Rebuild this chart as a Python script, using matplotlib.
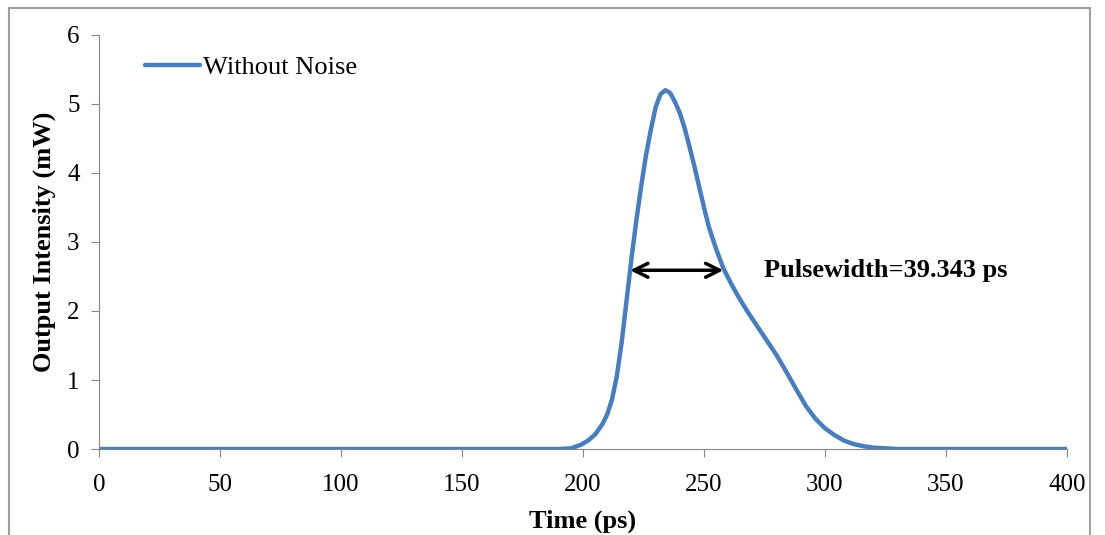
import matplotlib.pyplot as plt
from matplotlib.patches import Rectangle

# pulse
time_ps = [0, 50, 100, 150, 190, 195, 199, 202, 205, 208, 210, 212, 214, 216,
           218, 220, 222, 224, 226, 228, 230, 232, 234, 236, 238, 240, 242,
           244, 246, 248, 250, 252, 255, 258, 261, 264, 268, 272, 276, 280,
           284, 288, 292, 296, 300, 304, 308, 312, 316, 320, 325, 330, 340, 400]
intensity_mw = [0, 0, 0, 0, 0, 0.01, 0.06, 0.12, 0.21, 0.36, 0.5, 0.72, 1.06,
                1.55, 2.15, 2.75, 3.3, 3.8, 4.25, 4.62, 4.95, 5.14, 5.2, 5.16,
                5.03, 4.87, 4.65, 4.38, 4.1, 3.8, 3.5, 3.22, 2.9, 2.62, 2.41,
                2.22, 1.99, 1.78, 1.57, 1.36, 1.12, 0.87, 0.63, 0.44, 0.3, 0.2,
                0.12, 0.07, 0.04, 0.02, 0.01, 0, 0, 0]
x_ticks = [0, 50, 100, 150, 200, 250, 300, 350, 400]
y_ticks = [0, 1, 2, 3, 4, 5, 6]
arrow_left, arrow_right, arrow_level = 219.5, 258, 2.59
label = "Pulsewidth=39.343 ps"

plt.rcParams['font.family'] = ['Liberation Serif', 'DejaVu Serif']

fig = plt.figure(figsize=(11.05, 5.35), dpi=100)
ax = fig.add_axes([0.0896, 0.1607, 0.876, 0.774])

ax.plot(time_ps, intensity_mw, color='#4A7EBB', lw=3.2,
        solid_capstyle='round', solid_joinstyle='round', label='Without Noise')

ax.set_xlim(0, 400)
ax.set_ylim(0, 6)
ax.set_xticks(x_ticks)
ax.set_yticks(y_ticks)
for s in ['top', 'right']:
    ax.spines[s].set_visible(False)
for s in ['left', 'bottom']:
    ax.spines[s].set_color('#868686')
ax.tick_params(direction='out', length=6, color='#868686', labelsize=18)
ax.tick_params(axis='x', pad=12)
ax.tick_params(axis='y', pad=8)
ax.set_xlabel('Time (ps)', fontsize=19, fontweight='bold', labelpad=10)
ax.set_ylabel('Output Intensity (mW)', fontsize=19, fontweight='bold', labelpad=8)

ax.annotate('', xy=(arrow_left, arrow_level), xytext=(arrow_right, arrow_level),
            arrowprops=dict(arrowstyle='<->', color='black', lw=2.5,
                            mutation_scale=25, shrinkA=0, shrinkB=0))
ax.text(275, arrow_level, label, fontsize=19, fontweight='bold', va='center')

leg = ax.legend(loc='upper left', bbox_to_anchor=(0.023, 1.007), frameon=False,
                fontsize=19, handlelength=2.1, handletextpad=0.1)

fig.patches.append(Rectangle((0.008, -0.01), 0.978, 0.995, transform=fig.transFigure,
                             fill=False, edgecolor='#A0A0A0', lw=1.5))

fig.savefig('out.png', dpi=100)
